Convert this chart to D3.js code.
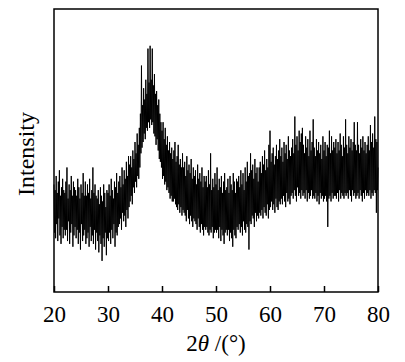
<!DOCTYPE html>
<html>
<head>
<style>
    body { margin: 0; background: #fff; }
    text { font-family: "Liberation Serif", "DejaVu Serif", serif; fill: #000; }
</style>
<script src="https://d3js.org/d3.v7.min.js"></script>
</head>
<body>
<svg width="405" height="362"></svg>
<script>
    // scan settings: 20.0 .. 80.0 deg, step 0.1
    var startAngle = 20;
    var stepAngle = 0.1;
    var xTicks = [20, 30, 40, 50, 60, 70, 80];

    // intensity (arbitrary units), one row = 2 deg
    var intensity = [
        38,21,36,19,41,24,35,18,39,26,43,20,34,17,37,23,40,19,36,22,
        35,20,39,22,44,18,33,25,38,17,36,21,41,24,34,16,39,20,37,23,
        36,19,34,22,40,17,37,21,33,15,38,24,35,18,42,20,34,22,39,17,
        34,19,38,21,35,16,40,23,33,18,36,20,44,17,35,22,38,15,34,21,
        33,18,36,14,31,20,37,17,34,11,32,19,38,16,35,21,30,13,36,19,
        35,18,38,21,34,17,40,22,36,19,33,24,39,16,37,21,42,20,35,23,
        39,24,41,26,37,22,44,28,38,25,43,27,40,23,46,29,41,26,48,30,
        45,32,48,34,44,31,50,37,47,35,53,39,49,37,56,41,52,40,58,44,
        63,49,80,51,66,53,72,56,68,54,75,58,70,57,86,60,74,58,87,61,
        75,59,86,60,73,56,77,55,70,52,71,54,66,50,68,47,63,46,60,44,
        57,40,60,41,54,38,58,39,52,36,55,37,50,35,53,33,49,34,51,32,
        47,32,50,33,53,31,46,30,48,29,52,31,45,28,47,30,44,27,49,29,
        44,28,46,27,41,25,48,29,43,26,45,24,42,27,47,25,40,23,44,26,
        41,25,43,24,38,22,45,26,40,23,42,21,39,24,44,22,37,20,41,23,
        39,22,41,23,37,21,43,20,38,22,49,21,36,23,40,19,37,21,42,22,
        38,21,44,22,36,19,40,23,37,18,41,22,35,20,39,17,42,21,36,22,
        37,20,40,22,35,18,41,21,38,19,36,16,42,22,39,20,35,19,40,23,
        39,22,41,24,37,21,43,23,38,20,42,25,36,22,44,21,39,24,46,23,
        41,15,42,25,49,24,43,27,45,26,40,23,47,28,42,25,44,27,39,26,
        44,28,46,27,42,29,48,26,45,30,50,28,43,27,47,31,44,26,52,29,
        57,30,46,32,49,29,51,31,45,28,48,33,52,30,47,29,50,32,54,31,
        48,33,51,31,46,34,53,32,49,30,52,35,47,32,55,33,50,31,48,34,
        51,35,54,33,49,36,62,34,52,32,55,37,50,34,57,35,53,33,56,36,
        58,34,52,35,49,33,55,36,51,32,54,35,48,33,57,34,50,36,53,33,
        61,34,51,33,48,35,54,32,50,34,53,31,49,35,52,33,47,34,55,32,
        50,33,53,34,48,32,52,23,51,33,57,34,49,32,55,35,50,33,53,34,
        51,34,54,33,49,35,53,32,50,36,56,33,52,35,48,34,55,33,51,35,
        61,34,52,35,49,33,55,36,51,34,54,32,50,36,53,34,60,35,52,33,
        50,34,60,35,52,33,49,36,54,34,51,32,55,35,50,33,53,36,49,34,
        52,35,55,34,50,36,59,33,53,35,56,34,51,36,62,35,54,28,53,36,
        44
    ];

    var margin = { top: 9, right: 27, bottom: 70, left: 54 };
    var width = 405 - margin.left - margin.right;
    var height = 362 - margin.top - margin.bottom;

    var svg = d3.select('svg');
    var g = svg.append('g')
        .attr('transform', 'translate(' + margin.left + ',' + margin.top + ')');

    var xScale = d3.scaleLinear().domain([20, 80]).range([0, width]);
    var yScale = d3.scaleLinear().domain([0, 100]).range([height, 0]);

    var data = intensity.map(function (d, i) {
        return { angle: startAngle + i * stepAngle, value: d };
    });

    var line = d3.line()
        .x(function (d) { return xScale(d.angle); })
        .y(function (d) { return yScale(d.value); });

    g.append('path')
        .datum(data)
        .attr('fill', 'none')
        .attr('stroke', '#000')
        .attr('stroke-width', 1)
        .attr('d', line);

    // frame
    g.append('rect')
        .attr('width', width)
        .attr('height', height)
        .attr('fill', 'none')
        .attr('stroke', '#000')
        .attr('stroke-width', 1.5);

    // x axis, ticks pointing inward
    var xAxis = d3.axisBottom(xScale)
        .tickValues(xTicks)
        .tickSizeInner(-6)
        .tickSizeOuter(0)
        .tickPadding(14);

    var ax = g.append('g')
        .attr('transform', 'translate(0,' + height + ')')
        .call(xAxis);
    ax.select('.domain').remove();
    ax.selectAll('.tick line').attr('stroke', '#000').attr('stroke-width', 1.5);
    ax.selectAll('.tick text')
        .attr('font-size', 23)
        .attr('font-family', '"Liberation Serif", serif');

    // axis titles
    var xt = svg.append('text')
        .attr('x', margin.left + width / 2)
        .attr('y', 351)
        .attr('text-anchor', 'middle')
        .attr('font-size', 23);
    xt.append('tspan').text('2');
    xt.append('tspan').attr('font-style', 'italic').text('θ');
    xt.append('tspan').text(' /(°)');

    svg.append('text')
        .attr('transform', 'translate(34,154) rotate(-90)')
        .attr('text-anchor', 'middle')
        .attr('font-size', 24)
        .text('Intensity');
</script>
</body>
</html>
